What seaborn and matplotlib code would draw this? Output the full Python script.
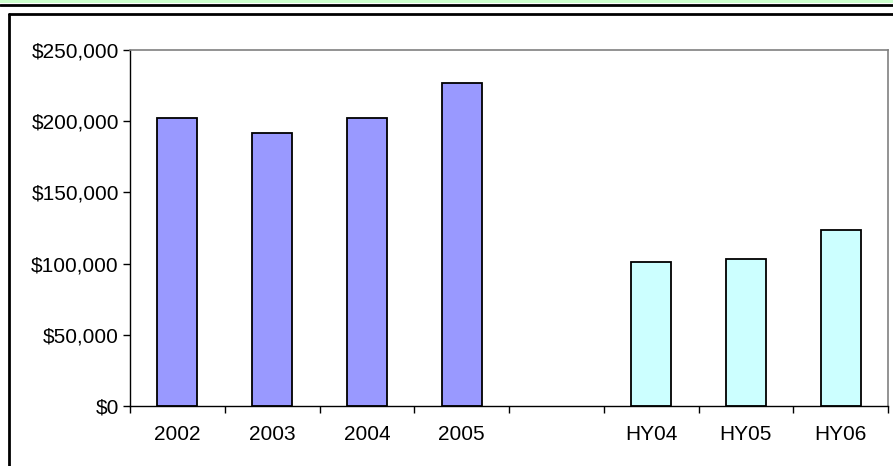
import numpy as np
import pandas as pd
import matplotlib
matplotlib.use("Agg")
import matplotlib.pyplot as plt
from matplotlib.lines import Line2D
from matplotlib.patches import Rectangle
import seaborn as sns

# data
periods = ["2002", "2003", "2004", "2005", "", "HY04", "HY05", "HY06"]
values = [202000, 191500, 202000, 227000, np.nan, 101000, 103500, 123500]
groups = ["year", "year", "year", "year", "year", "half", "half", "half"]
group_colors = {"year": "#9999ff", "half": "#ccffff"}
yticks = [0, 50000, 100000, 150000, 200000, 250000]

df = pd.DataFrame({"period": periods, "value": values, "group": groups})

sns.set_style("white")
plt.rcParams["font.family"] = ["Liberation Sans", "DejaVu Sans"]

W, H = 893, 466
fig = plt.figure(figsize=(W / 100, H / 100), dpi=100)
ax = fig.add_axes([130 / W, (H - 406) / H, (888 - 130) / W, (406 - 50) / H])

sns.barplot(data=df, x="period", y="value", hue="group", order=periods,
            palette=group_colors, saturation=1, dodge=False, width=0.42,
            edgecolor="black", linewidth=1.3, legend=False, ax=ax)

ax.set_xlim(-0.5, len(periods) - 0.5)
ax.set_ylim(0, 250000)
ax.set_yticks(yticks)
ax.set_yticklabels([f"${v:,.0f}" for v in yticks])
ax.set_xlabel("")
ax.set_ylabel("")

# ticks between categories, labels at centres
ax.set_xticks(np.arange(len(periods)))
ax.set_xticklabels(periods)
ax.set_xticks(np.arange(len(periods) + 1) - 0.5, minor=True)
ax.tick_params(axis="x", which="major", bottom=False, pad=10, labelsize=15,
               labelcolor="black")
ax.tick_params(axis="x", which="minor", bottom=True, length=5, width=1,
               color="black", direction="out")
ax.tick_params(axis="y", left=True, length=5, width=1, color="black",
               direction="out", pad=3, labelsize=15, labelcolor="black")

for side in ["left", "bottom"]:
    ax.spines[side].set_color("black")
    ax.spines[side].set_linewidth(1)
for side in ["top", "right"]:
    ax.spines[side].set_visible(True)
    ax.spines[side].set_color("#808080")
    ax.spines[side].set_linewidth(1.2)

# frame around the chart like the source sheet
fig.patches.append(Rectangle((0, (H - 3) / H), 1, 3 / H, transform=fig.transFigure,
                             facecolor="#ccffcc", edgecolor="none"))
fig.lines.append(Line2D([0, 1], [(H - 4.5) / H] * 2, transform=fig.transFigure,
                        color="black", linewidth=2))
fig.lines.append(Line2D([9 / W, 1], [(H - 14) / H] * 2, transform=fig.transFigure,
                        color="black", linewidth=2))
fig.lines.append(Line2D([9 / W, 9 / W], [0, (H - 14) / H], transform=fig.transFigure,
                        color="black", linewidth=2))

fig.savefig("out.png", dpi=100)
